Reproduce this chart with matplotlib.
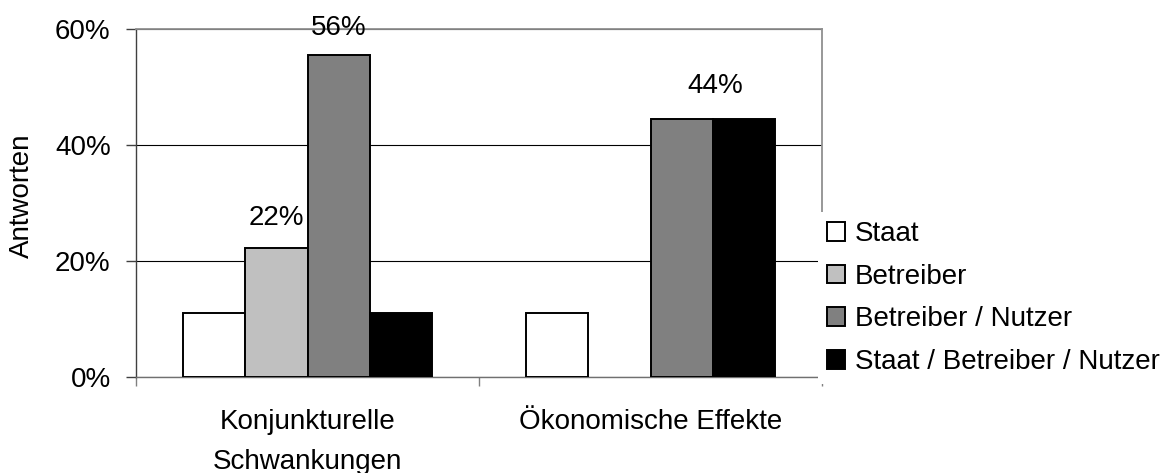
import numpy as np
import matplotlib
matplotlib.use("Agg")
import matplotlib.pyplot as plt
from matplotlib.ticker import FixedLocator

plt.rcParams['font.family'] = ['Liberation Sans', 'DejaVu Sans']

categories = ['Konjunkturelle\nSchwankungen', 'Ökonomische Effekte']
series = ['Staat', 'Betreiber', 'Betreiber / Nutzer', 'Staat / Betreiber / Nutzer']
colors = ['#FFFFFF', '#C0C0C0', '#808080', '#000000']

# share of answers in percent (9 answers)
staat = [11.1, 11.1]
betreiber = [22.2, 0.0]
betreiber_nutzer = [55.6, 44.4]
staat_betreiber_nutzer = [11.1, 44.4]
values = [staat, betreiber, betreiber_nutzer, staat_betreiber_nutzer]

yticks = [0, 20, 40, 60]
ytick_labels = ['0%', '20%', '40%', '60%']

fig = plt.figure(figsize=(11.65, 4.73), dpi=100)
ax = fig.add_axes([136 / 1165, 96 / 473, 686 / 1165, 348 / 473])

x = np.arange(len(categories))
w = 0.1816
handles = []
for j, (name, vals, col) in enumerate(zip(series, values, colors)):
    pos = x + (j - 1.5) * w
    h = np.array(vals)
    keep = h > 0
    b = ax.bar(pos[keep], h[keep], width=w, color=col, edgecolor='black',
               linewidth=1.4, zorder=3, label=name)
    handles.append(b)

fs = 20
# data labels
ax.annotate('22%', (x[0] - 0.5 * w, betreiber[0]), xytext=(0, 22),
            textcoords='offset points', ha='center', va='center', fontsize=fs)
ax.annotate('56%', (x[0] + 0.5 * w, betreiber_nutzer[0]), xytext=(0, 19),
            textcoords='offset points', ha='center', va='center', fontsize=fs)
ax.annotate('44%', (x[1] + w, betreiber_nutzer[1]), xytext=(2, 24),
            textcoords='offset points', ha='center', va='center', fontsize=fs)

ax.set_xlim(-0.5, 1.5)
ax.set_ylim(0, 60)
ax.set_yticks(yticks)
ax.set_yticklabels(ytick_labels, fontsize=fs)
ax.tick_params(axis='y', length=7.2, width=1.0, color='#404040', pad=11)

ax.set_xticks(x)
ax.set_xticklabels(categories, fontsize=fs, linespacing=1.68)
ax.tick_params(axis='x', which='major', length=0, pad=23)
ax.xaxis.set_minor_locator(FixedLocator([-0.5, 0.5, 1.5]))
ax.tick_params(axis='x', which='minor', length=6.5, width=1.0, color='#808080')

ax.yaxis.grid(True, color='black', linewidth=0.8, zorder=0)
ax.set_axisbelow(True)

ax.spines['left'].set_color('#404040')
ax.spines['left'].set_linewidth(1.0)
ax.spines['bottom'].set_color('#707070')
ax.spines['bottom'].set_linewidth(1.0)
for s in ['top', 'right']:
    ax.spines[s].set_color('#909090')
    ax.spines[s].set_linewidth(1.3)

ax.set_ylabel('Antworten', fontsize=fs, va='center')
ax.yaxis.set_label_coords(-0.166, 0.52)

leg = fig.legend(handles=handles, labels=series, loc='center left',
                 bbox_to_anchor=(818 / 1165, 175 / 473), fontsize=fs,
                 frameon=True, facecolor='white', edgecolor='none',
                 framealpha=1.0, fancybox=False, borderpad=0.32,
                 borderaxespad=0, handlelength=0.65, handleheight=0.65,
                 handletextpad=0.36, labelspacing=0.6)

plt.savefig('out.png', dpi=100)
